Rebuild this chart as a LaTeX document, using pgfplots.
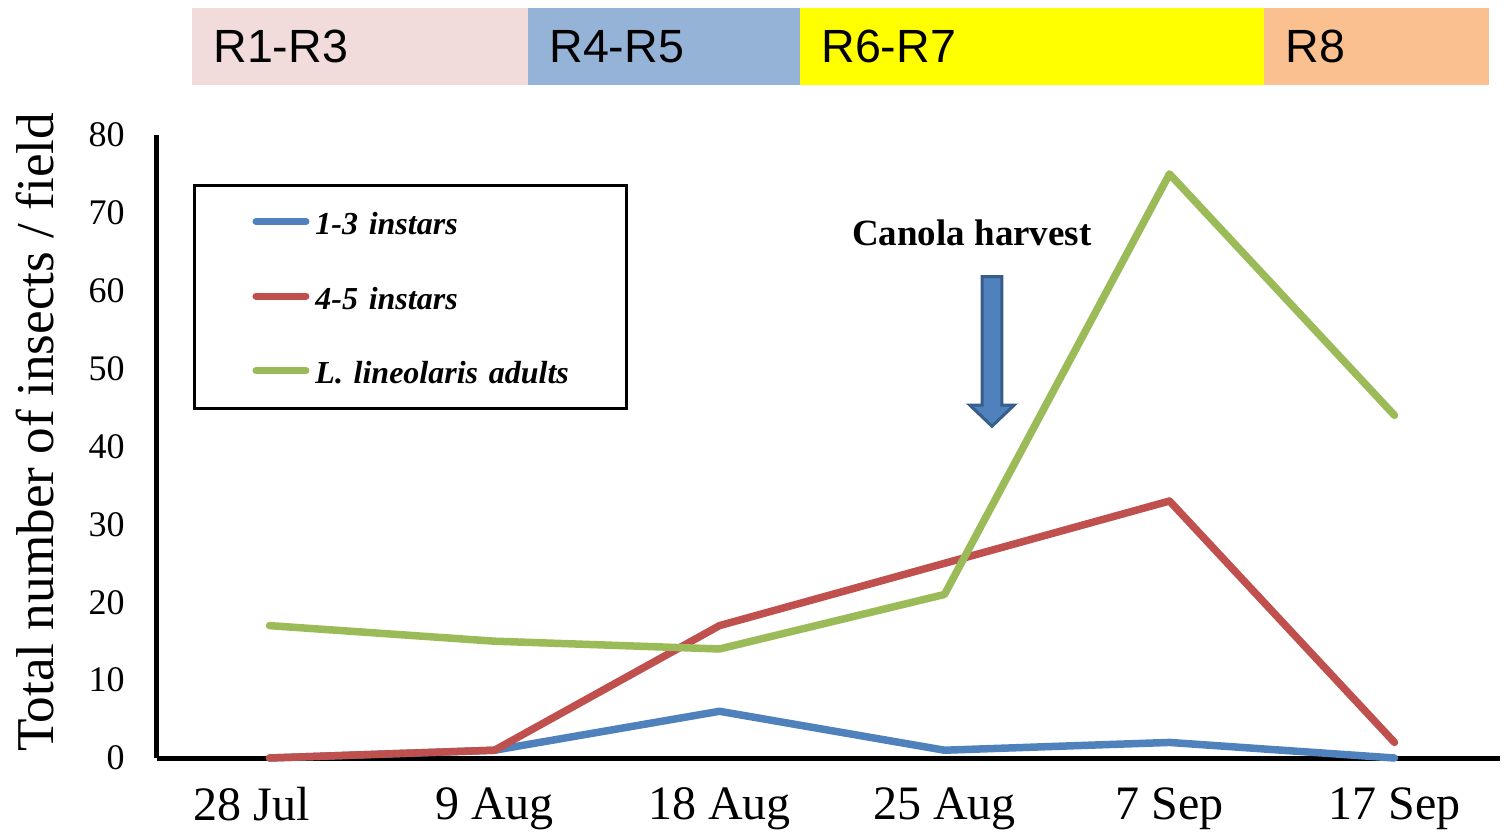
\documentclass[border=0pt]{standalone}
\usepackage{fontspec}
\setmainfont{Liberation Serif}
\newfontfamily\arialfont{Liberation Sans}
\usepackage{pgfplots}
\pgfplotsset{compat=1.18}
\definecolor{cblue}{RGB}{79,129,189}
\definecolor{cred}{RGB}{192,80,77}
\definecolor{cgreen}{RGB}{155,187,89}
\definecolor{bandA}{RGB}{242,220,219}
\definecolor{bandB}{RGB}{149,179,215}
\definecolor{bandC}{RGB}{255,255,0}
\definecolor{bandD}{RGB}{250,192,143}
\definecolor{arrowedge}{RGB}{56,93,138}
\begin{document}
\begin{tikzpicture}
\useasboundingbox (-78.5pt,-37pt) rectangle (673.5pt,379pt);
\begin{axis}[
  at={(0,0)}, anchor=south west,
  scale only axis,
  width=671.5pt, height=311.5pt,
  xmin=-0.5, xmax=5.469,
  ymin=0, ymax=80,
  clip=false,
  axis x line=bottom, axis y line=left,
  axis line style={line width=2.5pt,-},
  major tick length=0pt,
  xtick={0,1,2,3,4,5},
  xticklabels={{\hspace*{-18pt}28 Jul},9 Aug,18 Aug,25 Aug,7 Sep,17 Sep},
  ytick={0,10,20,30,40,50,60,70,80},
  /pgf/number format/assume math mode=true,
  xticklabel style={font=\fontsize{24}{24}\selectfont, inner sep=0pt, anchor=north, yshift=-14.5pt},
  yticklabel style={font=\fontsize{18}{18}\selectfont, inner sep=0pt, anchor=east, xshift=-16pt},
  ylabel={Total number of insects / field},
  ylabel style={font=\fontsize{26.6}{26.6}\selectfont, at={(axis description cs:-0.0908,0.5225)}, anchor=center, inner sep=0pt},
  legend style={at={(axis description cs:0.0268,0.9213)}, anchor=north west,
    draw=black, line width=1.5pt, inner xsep=29pt, inner ysep=12.5pt,
    row sep=25.25pt, column sep=3pt,
    font=\bfseries\itshape\fontsize{16}{16}\selectfont,
    nodes={inner sep=0pt, text width=126.5pt, text height=12pt, text depth=0pt, align=left}},
  legend cell align=left,
  legend image code/.code={\draw[line width=3.5pt, line cap=round, #1] (0pt,0.5pt) -- (25pt,0.5pt);},
  every axis plot/.append style={line width=3.75pt, line join=round, line cap=round, mark=none},
]
\addplot[color=cblue] coordinates {(0,0) (1,1) (2,6) (3,1) (4,2) (5,0)};
\addlegendentry{1-3 instars}
\addplot[color=cred] coordinates {(0,0) (1,1) (2,17) (3,25) (4,33) (5,2)};
\addlegendentry{4-5 instars}
\addplot[color=cgreen] coordinates {(0,17) (1,15) (2,14) (3,21) (4,75) (5,44)};
\addlegendentry{\mbox{L. lineolaris adults}}

% stage bands
\fill[bandA] (axis cs:-0.3444,86.42) rectangle (axis cs:1.1489,96.31);
\fill[bandB] (axis cs:1.1489,86.42) rectangle (axis cs:2.3578,96.31);
\fill[bandC] (axis cs:2.3578,86.42) rectangle (axis cs:4.4222,96.31);
\fill[bandD] (axis cs:4.4222,86.42) rectangle (axis cs:5.4178,96.31);
\begin{scope}[every node/.style={anchor=west, inner sep=0pt, xshift=10.5pt, font=\arialfont\fontsize{23.3}{23.3}\selectfont}]
\node at (axis cs:-0.3444,91.37) {R1-R3};
\node at (axis cs:1.1489,91.37) {R4-R5};
\node at (axis cs:2.3578,91.37) {R6-R7};
\node at (axis cs:4.4222,91.37) {R8};
\end{scope}

% canola harvest annotation
\node[font=\bfseries\fontsize{18.5}{18.5}\selectfont, inner sep=0pt] at (axis cs:3.122,67.4) {Canola harvest};
\filldraw[fill=cblue, draw=arrowedge, line width=1.5pt, line join=miter]
  (axis cs:3.167,61.8) -- (axis cs:3.255,61.8) -- (axis cs:3.255,45.3) -- (axis cs:3.309,45.3)
  -- (axis cs:3.211,42.6) -- (axis cs:3.113,45.3) -- (axis cs:3.167,45.3) -- cycle;
\end{axis}
\end{tikzpicture}
\end{document}
